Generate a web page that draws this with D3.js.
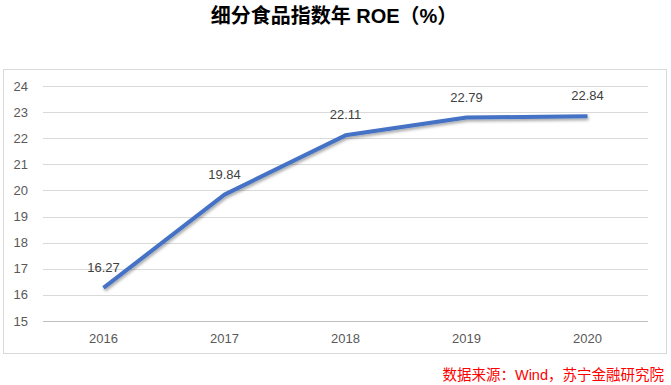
<!DOCTYPE html>
<html>
<head>
<meta charset="utf-8">
<script src="https://cdn.jsdelivr.net/npm/d3@7"></script>
<style>
  body { margin: 0; background: #fff; }
  text { font-family: "Liberation Sans", "Noto Sans CJK SC", sans-serif; }
</style>
</head>
<body>
<div id="chart"></div>
<script>
const width = 671, height = 385;

// Data
const years = ['2016', '2017', '2018', '2019', '2020'];
const roe = [16.27, 19.84, 22.11, 22.79, 22.84];
const yTicks = [15, 16, 17, 18, 19, 20, 21, 22, 23, 24];

const plot = {left: 43, right: 648, top: 86, bottom: 321};

const svg = d3.select('#chart').append('svg')
  .attr('width', width)
  .attr('height', height);

const defs = svg.append('defs');
const shadow = defs.append('filter')
    .attr('id', 'shadow')
    .attr('x', '-10%').attr('y', '-10%')
    .attr('width', '120%').attr('height', '140%');
shadow.append('feDropShadow')
    .attr('dx', 1).attr('dy', 2)
    .attr('stdDeviation', 1.5)
    .attr('flood-color', '#000')
    .attr('flood-opacity', 0.35);

// Outer border
svg.append('rect')
    .attr('x', 3.5).attr('y', 69.5)
    .attr('width', 663).attr('height', 284)
    .attr('fill', 'none')
    .attr('stroke', '#d9d9d9');

// Title
svg.append('text')
    .attr('x', 334).attr('y', 23)
    .attr('text-anchor', 'middle')
    .attr('font-size', 20)
    .attr('font-weight', 'bold')
    .attr('fill', '#000')
    .text('细分食品指数年 ROE（%）');

const x = d3.scaleBand()
  .domain(years)
  .range([plot.left, plot.right]);

const y = d3.scaleLinear()
  .domain([15, 24])
  .range([plot.bottom, plot.top]);

// Gridlines
svg.append('g')
    .attr('class', 'grid')
  .selectAll('line')
  .data(yTicks)
  .join('line')
    .attr('x1', plot.left)
    .attr('x2', plot.right)
    .attr('y1', d => Math.round(y(d)) + 0.5)
    .attr('y2', d => Math.round(y(d)) + 0.5)
    .attr('stroke', d => d === 15 ? '#bfbfbf' : '#d9d9d9')
    .attr('stroke-width', 1);

// Y axis labels
svg.append('g')
  .selectAll('text')
  .data(yTicks)
  .join('text')
    .attr('x', 28)
    .attr('y', d => y(d))
    .attr('dy', '0.35em')
    .attr('text-anchor', 'end')
    .attr('font-size', 13)
    .attr('fill', '#595959')
    .text(d => d);

// X axis labels
svg.append('g')
  .selectAll('text')
  .data(years)
  .join('text')
    .attr('x', d => x(d) + x.bandwidth() / 2)
    .attr('y', 343)
    .attr('text-anchor', 'middle')
    .attr('font-size', 13)
    .attr('fill', '#595959')
    .text(d => d);

// Line
const points = years.map((yr, i) => ({year: yr, value: roe[i]}));
const line = d3.line()
  .x(d => x(d.year) + x.bandwidth() / 2)
  .y(d => y(d.value));

svg.append('path')
    .datum(points)
    .attr('d', line)
    .attr('fill', 'none')
    .attr('stroke', '#4472c4')
    .attr('stroke-width', 4)
    .attr('stroke-linejoin', 'round')
    .attr('filter', 'url(#shadow)');

// Value labels
svg.append('g')
  .selectAll('text')
  .data(points)
  .join('text')
    .attr('x', d => x(d.year) + x.bandwidth() / 2)
    .attr('y', d => y(d.value) - 16)
    .attr('text-anchor', 'middle')
    .attr('font-size', 13)
    .attr('fill', '#404040')
    .text(d => d.value.toFixed(2));

// Source
svg.append('text')
    .attr('x', 664)
    .attr('y', 380)
    .attr('text-anchor', 'end')
    .attr('font-size', 14.5)
    .attr('fill', '#ff0000')
    .text('数据来源：Wind，苏宁金融研究院');
</script>
</body>
</html>
